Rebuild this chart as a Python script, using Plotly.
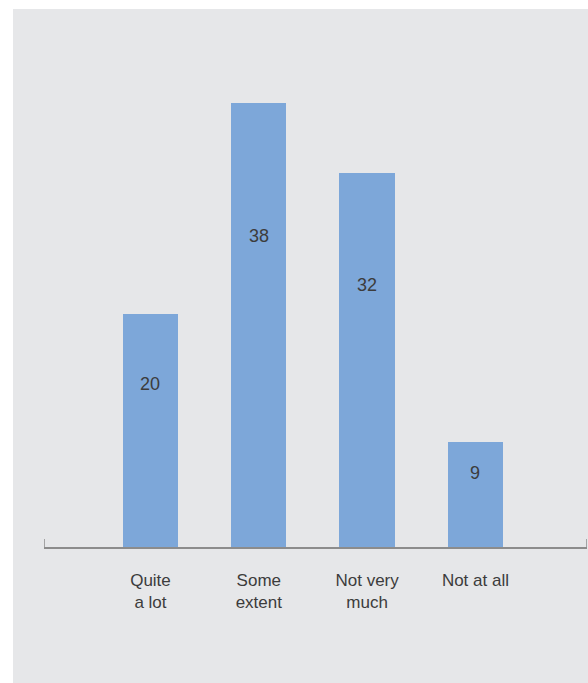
import plotly.graph_objects as go

categories = ["Quite<br>a lot", "Some<br>extent", "Not very<br>much", "Not at all"]
values = [20, 38, 32, 9]

BG = "#e6e7e9"
BAR = "#7da7d9"
TXT = "#3c3c3c"
AXIS = "#8c8c8c"
FONT = "Liberation Sans, Arial, sans-serif"

W, H = 588, 683
ML, MR, MT, MB = 44, 1, 80, 136
PW = W - ML - MR
PH = H - MT - MB

x_idx = list(range(len(categories)))
xr = [-0.983, 4.03]
yr = [0, 40]

fig = go.Figure()
fig.add_trace(go.Bar(
    x=x_idx, y=values, width=0.51, marker=dict(color=BAR, line=dict(width=0)),
    hoverinfo="skip",
))

for xi, v in zip(x_idx, values):
    fig.add_annotation(x=xi, y=v * 0.7, text=str(v), showarrow=False,
                       font=dict(size=18, color=TXT, family=FONT),
                       xanchor="center", yanchor="middle")

# grey panel (white strip left/top outside the panel)
fig.add_shape(type="rect", xref="paper", yref="paper", layer="below",
              x0=(13 - ML) / PW, x1=(W - ML) / PW,
              y0=-MB / PH, y1=(H - 9 - MB) / PH,
              fillcolor=BG, line=dict(width=0))

# end ticks of the axis
for xe in xr:
    fig.add_shape(type="line", xref="x", yref="y", x0=xe, x1=xe, y0=0,
                  y1=8 / (PH / (yr[1] - yr[0])),
                  line=dict(color=AXIS, width=1.5))

fig.update_layout(
    width=W, height=H,
    margin=dict(l=ML, r=MR, t=MT, b=MB),
    paper_bgcolor="white", plot_bgcolor="rgba(0,0,0,0)",
    showlegend=False, bargap=0,
    font=dict(family=FONT, size=17, color=TXT),
    xaxis=dict(range=xr, tickmode="array", tickvals=x_idx, ticktext=categories,
               showline=True, linecolor=AXIS, linewidth=1.5,
               showgrid=False, zeroline=False, ticks="", fixedrange=True,
               ticklabelstandoff=17,
               tickfont=dict(size=17, color=TXT, family=FONT)),
    yaxis=dict(range=yr, visible=False, showgrid=False, zeroline=False, fixedrange=True),
)

fig.write_html("out.html", config={"displayModeBar": False},
               post_script="document.body.style.margin='0';")
